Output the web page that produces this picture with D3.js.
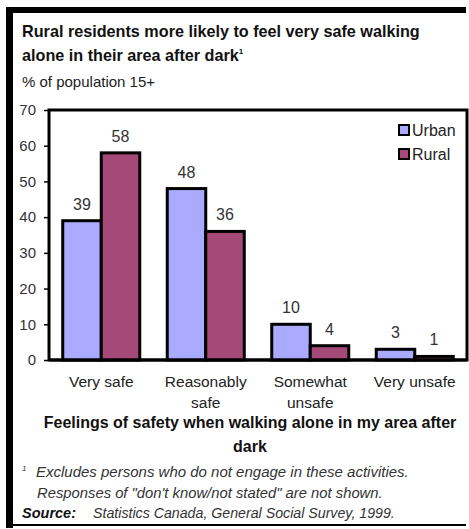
<!DOCTYPE html>
<html><head><meta charset="utf-8">
<script src="https://cdn.jsdelivr.net/npm/d3@7"></script>
<style>body{margin:0;background:#fff}svg{display:block}text{font-family:"Liberation Sans",Arial,sans-serif}</style>
</head><body><svg id="c" width="469" height="529"></svg>
<script>
const categories = [["Very safe"], ["Reasonably", "safe"], ["Somewhat", "unsafe"], ["Very unsafe"]];
const seriesNames = ["Urban", "Rural"];
const urban = [39, 48, 10, 3];
const rural = [58, 36, 4, 1];
const yTicks = [0, 10, 20, 30, 40, 50, 60, 70];
const colors = ["#aaaaff", "#a54a78"];

const svg = d3.select("#c");
// outer frame
svg.append("rect").attr("x",6).attr("y",7).attr("width",7).attr("height",521).attr("fill","#000");
svg.append("rect").attr("x",6).attr("y",7).attr("width",460).attr("height",6).attr("fill","#000");
svg.append("rect").attr("x",6).attr("y",524).attr("width",460).attr("height",2).attr("fill","#000");

// titles
const t = svg.append("g").attr("fill","#111");
t.append("text").attr("x",22).attr("y",37).attr("font-size",16.2).attr("font-weight","bold").text("Rural residents more likely to feel very safe walking");
const t2 = t.append("text").attr("x",22).attr("y",61).attr("font-size",16.2).attr("font-weight","bold").text("alone in their area after dark");
t2.append("tspan").attr("font-size",8).attr("dy",-7).text("1");
t.append("text").attr("x",22).attr("y",87).attr("font-size",15).attr("fill","#222").text("% of population 15+");

const L=49, R=467, T=110, B=360;
const y = d3.scaleLinear().domain([0,70]).range([B,T]);
const x0 = d3.scaleBand().domain(d3.range(categories.length)).range([L,R]).paddingInner(0.263).paddingOuter(0.1315);
const x1 = d3.scaleBand().domain(seriesNames).range([0,x0.bandwidth()]);

// plot frame
svg.append("rect").attr("x",L).attr("y",T).attr("width",R-L).attr("height",B-T).attr("fill","none").attr("stroke","#000").attr("stroke-width",3);

// y axis
const yAxis = d3.axisLeft(y).tickValues(yTicks).tickSize(4).tickPadding(8);
const ga = svg.append("g").attr("transform",`translate(${L-1},0)`).call(yAxis);
ga.select(".domain").remove();
ga.selectAll("line").attr("stroke","#000").attr("stroke-width",1.5);
ga.selectAll("text").attr("font-size",15).attr("fill","#333").attr("font-family","Liberation Sans, Arial, sans-serif");

const data = [urban, rural];
seriesNames.forEach((s,si)=>{
  const g = svg.append("g");
  data[si].forEach((v,i)=>{
    const bx = x0(i)+x1(s);
    g.append("rect").attr("x",bx).attr("y",y(v)).attr("width",x1.bandwidth()).attr("height",B-y(v))
      .attr("fill",colors[si]).attr("stroke","#000").attr("stroke-width",3);
    svg.append("text").attr("x",bx+x1.bandwidth()/2).attr("y",y(v)-11).attr("text-anchor","middle")
      .attr("font-size",16).attr("fill","#333").text(v);
  });
});
// redraw baseline
svg.append("line").attr("x1",L).attr("x2",R).attr("y1",B).attr("y2",B).attr("stroke","#000").attr("stroke-width",3);

// legend
seriesNames.forEach((s,i)=>{
  const ly = 125 + i*24;
  svg.append("rect").attr("x",399).attr("y",ly).attr("width",10).attr("height",10).attr("fill",colors[i]).attr("stroke","#000").attr("stroke-width",2);
  svg.append("text").attr("x",412).attr("y",ly+11).attr("font-size",16).attr("fill","#222").text(s);
});

// category labels
categories.forEach((lines,i)=>{
  const cx = x0(i)+x0.bandwidth()/2;
  lines.forEach((ln,j)=>{
    svg.append("text").attr("x",cx).attr("y",387+j*21).attr("text-anchor","middle").attr("font-size",15.5).attr("fill","#222").text(ln);
  });
});

// axis title
svg.append("text").attr("x",250).attr("y",428).attr("text-anchor","middle").attr("font-size",16).attr("font-weight","bold").attr("fill","#111").text("Feelings of safety when walking alone in my area after");
svg.append("text").attr("x",250).attr("y",452).attr("text-anchor","middle").attr("font-size",16).attr("font-weight","bold").attr("fill","#111").text("dark");

// footnotes
svg.append("text").attr("x",22).attr("y",471).attr("font-size",8).attr("font-style","italic").attr("fill","#333").text("1");
svg.append("text").attr("x",36).attr("y",477).attr("font-size",15).attr("font-style","italic").attr("fill","#333").text("Excludes persons who do not engage in these activities.");
svg.append("text").attr("x",37).attr("y",498).attr("font-size",14.8).attr("font-style","italic").attr("fill","#333").text("Responses of \"don't know/not stated\" are not shown.");
svg.append("text").attr("x",22).attr("y",518).attr("font-size",14.5).attr("font-style","italic").attr("font-weight","bold").attr("fill","#111").text("Source:");
svg.append("text").attr("x",93).attr("y",518).attr("font-size",14.2).attr("font-style","italic").attr("fill","#333").text("Statistics Canada, General Social Survey, 1999.");
</script></body></html>
